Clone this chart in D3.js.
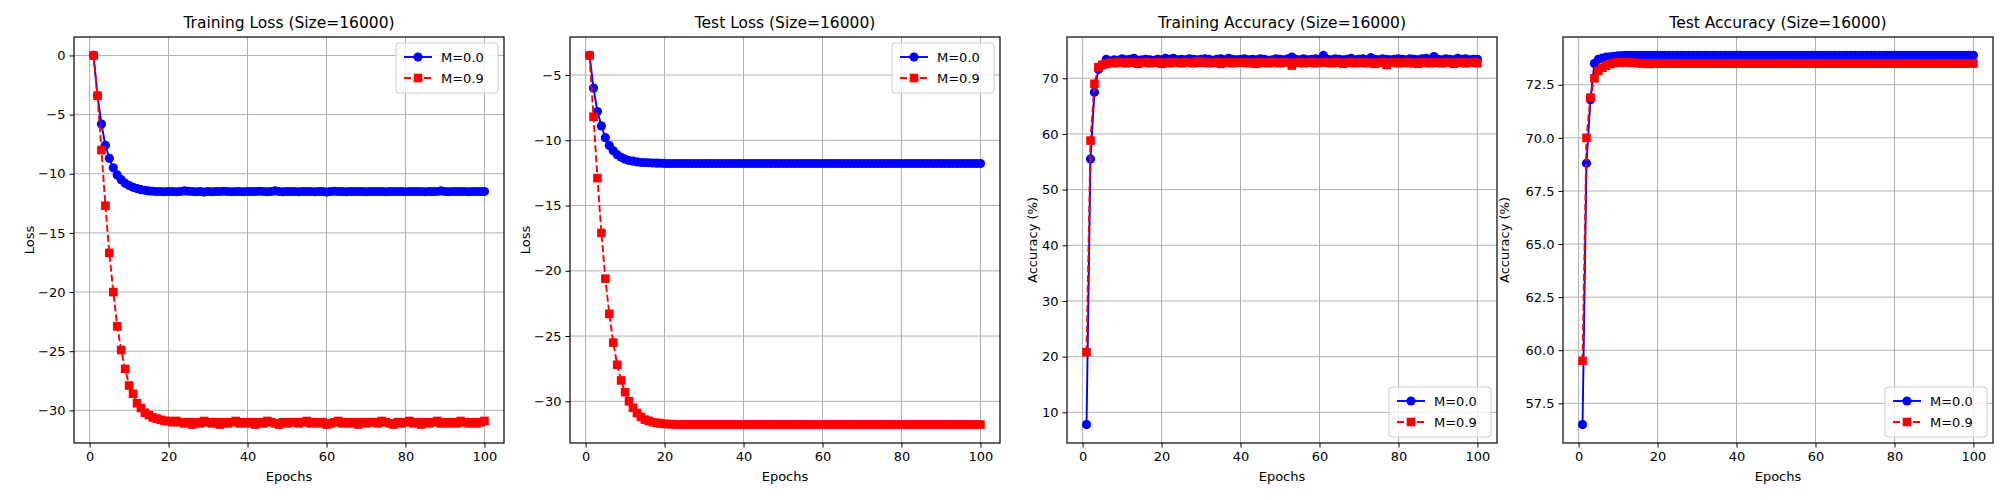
<!DOCTYPE html>
<html><head><meta charset="utf-8">
<script src="https://cdn.jsdelivr.net/npm/d3@7"></script>
<style>
body{margin:0;background:#fff;font-family:"DejaVu Sans",sans-serif;}
text{font-family:"DejaVu Sans",sans-serif;fill:#000;}
</style></head><body>
<svg id="chart" width="2000" height="500"></svg>
<script>
// epochs 1..100
let epochs = d3.range(1, 101);
let seriesNames = ["M=0.0", "M=0.9"];

let trainLossM0 = [0,-3.4,-5.8,-7.6,-8.7,-9.5,-10.1,-10.5,-10.8,-11.0,-11.15,-11.25,-11.35,-11.4,-11.45,-11.48,-11.5,-11.5,-11.52,-11.5,
 -11.5,-11.52,-11.5,-11.45,-11.48,-11.5,-11.52,-11.5,-11.55,-11.5,-11.52,-11.5,-11.5,-11.48,-11.5,-11.52,-11.5,-11.5,-11.52,-11.5,
 -11.5,-11.5,-11.48,-11.5,-11.52,-11.5,-11.45,-11.5,-11.52,-11.5,-11.5,-11.5,-11.52,-11.5,-11.5,-11.5,-11.52,-11.5,-11.5,-11.55,
 -11.5,-11.48,-11.5,-11.5,-11.52,-11.5,-11.5,-11.5,-11.5,-11.52,-11.5,-11.5,-11.5,-11.5,-11.52,-11.5,-11.5,-11.5,-11.5,-11.52,
 -11.5,-11.5,-11.5,-11.5,-11.52,-11.5,-11.5,-11.5,-11.45,-11.5,-11.52,-11.5,-11.5,-11.5,-11.5,-11.52,-11.5,-11.5,-11.5,-11.5];
let trainLossM9 = [0,-3.4,-8.0,-12.7,-16.7,-20.0,-22.9,-24.9,-26.5,-27.9,-28.6,-29.4,-29.8,-30.2,-30.4,-30.6,-30.7,-30.8,-30.9,-30.9,
 -31.0,-30.9,-31.0,-31.1,-31.0,-31.2,-31.0,-31.1,-30.9,-31.0,-31.1,-31.0,-31.2,-31.0,-31.1,-31.0,-30.9,-31.1,-31.0,-31.1,
 -31.0,-31.2,-31.0,-31.1,-30.9,-31.0,-31.1,-31.2,-31.0,-31.1,-31.0,-31.0,-31.1,-31.0,-30.9,-31.1,-31.0,-31.1,-31.0,-31.2,
 -31.1,-31.0,-30.9,-31.1,-31.0,-31.1,-31.0,-31.2,-31.0,-31.1,-31.0,-31.0,-31.1,-30.9,-31.0,-31.1,-31.2,-31.0,-31.1,-31.0,
 -30.9,-31.1,-31.0,-31.2,-31.0,-31.1,-31.0,-30.9,-31.1,-31.0,-31.1,-31.0,-31.1,-30.9,-31.0,-31.1,-31.0,-31.1,-31.0,-30.9];
let testLossM0 = [-3.5,-6.0,-7.8,-8.9,-9.8,-10.4,-10.8,-11.1,-11.3,-11.45,-11.55,-11.6,-11.65,-11.7,-11.7,-11.72,-11.74,-11.75,-11.76,-11.77,
 -11.78,-11.78,-11.78,-11.78,-11.78,-11.78,-11.78,-11.78,-11.78,-11.78,-11.78,-11.78,-11.78,-11.78,-11.78,-11.78,-11.78,-11.78,-11.78,-11.78,
 -11.78,-11.78,-11.78,-11.78,-11.78,-11.78,-11.78,-11.78,-11.78,-11.78,-11.78,-11.78,-11.78,-11.78,-11.78,-11.78,-11.78,-11.78,-11.78,-11.78,
 -11.78,-11.78,-11.78,-11.78,-11.78,-11.78,-11.78,-11.78,-11.78,-11.78,-11.78,-11.78,-11.78,-11.78,-11.78,-11.78,-11.78,-11.78,-11.78,-11.78,
 -11.78,-11.78,-11.78,-11.78,-11.78,-11.78,-11.78,-11.78,-11.78,-11.78,-11.78,-11.78,-11.78,-11.78,-11.78,-11.78,-11.78,-11.78,-11.78,-11.78];
let testLossM9 = [-3.5,-8.2,-12.9,-17.1,-20.6,-23.3,-25.5,-27.2,-28.4,-29.3,-30.0,-30.5,-30.9,-31.2,-31.4,-31.5,-31.6,-31.65,-31.7,-31.72,
 -31.75,-31.75,-31.76,-31.77,-31.78,-31.78,-31.78,-31.78,-31.78,-31.78,-31.78,-31.78,-31.78,-31.78,-31.78,-31.78,-31.78,-31.78,-31.78,-31.78,
 -31.78,-31.78,-31.78,-31.78,-31.78,-31.78,-31.78,-31.78,-31.78,-31.78,-31.78,-31.78,-31.78,-31.78,-31.78,-31.78,-31.78,-31.78,-31.78,-31.78,
 -31.78,-31.78,-31.78,-31.78,-31.78,-31.78,-31.78,-31.78,-31.78,-31.78,-31.78,-31.78,-31.78,-31.78,-31.78,-31.78,-31.78,-31.78,-31.78,-31.78,
 -31.78,-31.78,-31.78,-31.78,-31.78,-31.78,-31.78,-31.78,-31.78,-31.78,-31.78,-31.78,-31.78,-31.78,-31.78,-31.78,-31.78,-31.78,-31.78,-31.78];
let trainAccM0 = [7.8,55.5,67.5,71.6,72.4,73.4,73.1,73.3,73.2,73.5,73.3,73.4,73.6,73.2,73.3,73.4,73.3,73.2,73.4,73.3,
 73.6,73.4,73.6,73.3,73.4,73.3,73.5,73.4,73.3,73.4,73.5,73.4,73.2,73.4,73.5,73.3,73.6,73.4,73.3,73.4,
 73.5,73.3,73.4,73.3,73.5,73.4,73.2,73.3,73.5,73.4,73.3,73.5,73.8,73.4,73.3,73.5,73.3,73.4,73.5,73.4,
 74.1,73.4,73.3,73.5,73.4,73.3,73.4,73.6,73.3,73.4,73.5,73.3,73.7,73.4,73.3,73.5,73.4,73.3,73.4,73.5,
 73.4,73.3,73.5,73.4,73.3,73.5,73.6,73.4,73.9,73.4,73.3,73.5,73.4,73.3,73.6,73.4,73.5,73.3,73.4,73.4];
let trainAccM9 = [20.8,58.8,69.0,72.0,72.4,72.6,72.8,72.7,72.9,72.8,72.7,72.9,72.8,72.6,72.8,72.9,72.7,72.8,72.9,72.6,
 72.8,72.7,72.9,72.8,72.7,72.9,72.8,72.7,73.0,72.8,72.9,72.7,72.8,72.9,72.6,72.8,72.9,72.7,72.8,72.8,
 72.9,72.7,72.8,72.6,72.9,72.8,72.7,72.9,72.8,72.7,72.9,72.8,72.3,72.8,72.9,72.7,72.8,72.9,72.7,72.8,
 72.9,72.8,72.7,72.9,72.8,72.6,72.8,72.9,72.7,72.8,72.9,72.7,72.8,72.6,72.8,72.9,72.4,72.8,72.9,72.7,
 72.8,72.9,72.7,72.8,72.6,72.9,72.8,72.7,72.9,72.8,72.7,72.9,72.8,72.6,72.8,72.9,72.7,72.8,72.9,72.7];
let testAccM0 = [56.5,68.8,71.8,73.5,73.7,73.75,73.8,73.82,73.84,73.86,73.87,73.88,73.88,73.88,73.88,73.88,73.88,73.88,73.88,73.88,
 73.88,73.88,73.88,73.88,73.88,73.88,73.88,73.88,73.88,73.88,73.88,73.88,73.88,73.88,73.88,73.88,73.88,73.88,73.88,73.88,
 73.88,73.88,73.88,73.88,73.88,73.88,73.88,73.88,73.88,73.88,73.88,73.88,73.88,73.88,73.88,73.88,73.88,73.88,73.88,73.88,
 73.88,73.88,73.88,73.88,73.88,73.88,73.88,73.88,73.88,73.88,73.88,73.88,73.88,73.88,73.88,73.88,73.88,73.88,73.88,73.88,
 73.88,73.88,73.88,73.88,73.88,73.88,73.88,73.88,73.88,73.88,73.88,73.88,73.88,73.88,73.88,73.88,73.88,73.88,73.88,73.88];
let testAccM9 = [59.5,70.0,71.9,72.8,73.15,73.3,73.4,73.48,73.52,73.55,73.55,73.55,73.54,73.53,73.52,73.5,73.5,73.48,73.5,73.5,
 73.5,73.5,73.5,73.5,73.5,73.5,73.5,73.5,73.5,73.5,73.5,73.5,73.5,73.5,73.5,73.5,73.5,73.5,73.5,73.5,
 73.5,73.5,73.5,73.5,73.5,73.5,73.5,73.5,73.5,73.5,73.5,73.5,73.5,73.5,73.5,73.5,73.5,73.5,73.5,73.5,
 73.5,73.5,73.5,73.5,73.5,73.5,73.5,73.5,73.5,73.5,73.5,73.5,73.5,73.5,73.5,73.5,73.5,73.5,73.5,73.5,
 73.5,73.5,73.5,73.5,73.5,73.5,73.5,73.5,73.5,73.5,73.5,73.5,73.5,73.5,73.5,73.5,73.5,73.5,73.5,73.5];

let panels = [
  {title:"Training Loss (Size=16000)", ylabel:"Loss", a:trainLossM0, b:trainLossM9, legend:"top", yticks:[0,-5,-10,-15,-20,-25,-30], fmt:d3.format("d")},
  {title:"Test Loss (Size=16000)", ylabel:"Loss", a:testLossM0, b:testLossM9, legend:"top", yticks:[-5,-10,-15,-20,-25,-30], fmt:d3.format("d")},
  {title:"Training Accuracy (Size=16000)", ylabel:"Accuracy (%)", a:trainAccM0, b:trainAccM9, legend:"bottom", yticks:[10,20,30,40,50,60,70], fmt:d3.format("d")},
  {title:"Test Accuracy (Size=16000)", ylabel:"Accuracy (%)", a:testAccM0, b:testAccM9, legend:"bottom", yticks:[57.5,60,62.5,65,67.5,70,72.5], fmt:d3.format(".1f")}
];

let svg = d3.select("#chart");
let lefts = [74, 570, 1067, 1563];
let plotTop = 37, plotBottom = 443, w = 430;
let minus = s => s.replace("-", "\u2212");

panels.forEach(function(p, i){
    let g = svg.append("g").attr("transform", "translate(" + lefts[i] + ",0)");
    let all = p.a.concat(p.b);
    let lo = d3.min(all), hi = d3.max(all), pad = (hi - lo) * 0.05;
    let x = d3.scaleLinear().domain([1 - 4.95, 100 + 4.95]).range([0, w]);
    let y = d3.scaleLinear().domain([lo - pad, hi + pad]).range([plotBottom, plotTop]);
    let xticks = [0,20,40,60,80,100];

    // grid
    g.selectAll(".gx").data(xticks).enter().append("line")
        .attr("x1", d => x(d)).attr("x2", d => x(d)).attr("y1", plotTop).attr("y2", plotBottom)
        .attr("stroke", "#b0b0b0").attr("stroke-width", 1);
    g.selectAll(".gy").data(p.yticks).enter().append("line")
        .attr("x1", 0).attr("x2", w).attr("y1", d => y(d)).attr("y2", d => y(d))
        .attr("stroke", "#b0b0b0").attr("stroke-width", 1);

    let xa = g.append("g").attr("transform", "translate(0," + plotBottom + ")")
        .call(d3.axisBottom(x).tickValues(xticks).tickSize(4.5).tickPadding(4).tickFormat(d3.format("d")));
    let ya = g.append("g")
        .call(d3.axisLeft(y).tickValues(p.yticks).tickSize(4.5).tickPadding(4).tickFormat(d => minus(p.fmt(d))));
    [xa, ya].forEach(a => {
        a.select(".domain").remove();
        a.selectAll("text").attr("font-size", 13).attr("font-family", "DejaVu Sans");
        a.selectAll("line").attr("stroke", "#000");
    });
    g.append("rect").attr("x", 0).attr("y", plotTop).attr("width", w).attr("height", plotBottom - plotTop)
        .attr("fill", "none").attr("stroke", "#000").attr("stroke-width", 1.2);

    let clip = "clip" + i;
    g.append("clipPath").attr("id", clip).append("rect").attr("x", -6).attr("y", plotTop - 6).attr("width", w + 12).attr("height", plotBottom - plotTop + 12);
    let plot = g.append("g").attr("clip-path", "url(#" + clip + ")");
    let line = d3.line().x((d, j) => x(epochs[j])).y(d => y(d));

    plot.append("path").datum(p.a).attr("d", line).attr("fill", "none").attr("stroke", "blue").attr("stroke-width", 1.9);
    plot.selectAll(".ca").data(p.a).enter().append("circle")
        .attr("cx", (d, j) => x(epochs[j])).attr("cy", d => y(d)).attr("r", 4.6).attr("fill", "blue");
    plot.append("path").datum(p.b).attr("d", line).attr("fill", "none").attr("stroke", "red")
        .attr("stroke-width", 1.9).attr("stroke-dasharray", "7,3");
    plot.selectAll(".sb").data(p.b).enter().append("rect")
        .attr("x", (d, j) => x(epochs[j]) - 4.3).attr("y", d => y(d) - 4.3).attr("width", 8.6).attr("height", 8.6).attr("fill", "red");

    g.append("text").attr("x", w / 2).attr("y", plotTop - 9).attr("text-anchor", "middle").attr("font-size", 15.5).text(p.title);
    g.append("text").attr("x", w / 2).attr("y", plotBottom + 38).attr("text-anchor", "middle").attr("font-size", 13).text("Epochs");
    g.append("text").attr("transform", "translate(" + (i == 3 ? -54 : (i == 2 ? -30 : -40)) + "," + ((plotTop + plotBottom) / 2) + ") rotate(-90)")
        .attr("text-anchor", "middle").attr("font-size", 13).text(p.ylabel);

    // legend
    let lw = 102, lh = 50;
    let ly = p.legend == "top" ? plotTop + 6 : plotBottom - lh - 6;
    let lg = g.append("g").attr("transform", "translate(" + (w - lw - 6) + "," + ly + ")");
    lg.append("rect").attr("width", lw).attr("height", lh).attr("rx", 3).attr("fill", "#fff")
        .attr("fill-opacity", 0.8).attr("stroke", "#ccc");
    seriesNames.forEach(function(name, k){
        let yy = 14 + k * 21;
        let col = k == 0 ? "blue" : "red";
        lg.append("line").attr("x1", 8).attr("x2", 36).attr("y1", yy).attr("y2", yy).attr("stroke", col)
            .attr("stroke-width", 1.9).attr("stroke-dasharray", k == 0 ? null : "7,3");
        if (k == 0) lg.append("circle").attr("cx", 22).attr("cy", yy).attr("r", 4.6).attr("fill", col);
        else lg.append("rect").attr("x", 17.7).attr("y", yy - 4.3).attr("width", 8.6).attr("height", 8.6).attr("fill", col);
        lg.append("text").attr("x", 45).attr("y", yy + 4.5).attr("font-size", 13).text(name);
    });
});
</script>
</body></html>
